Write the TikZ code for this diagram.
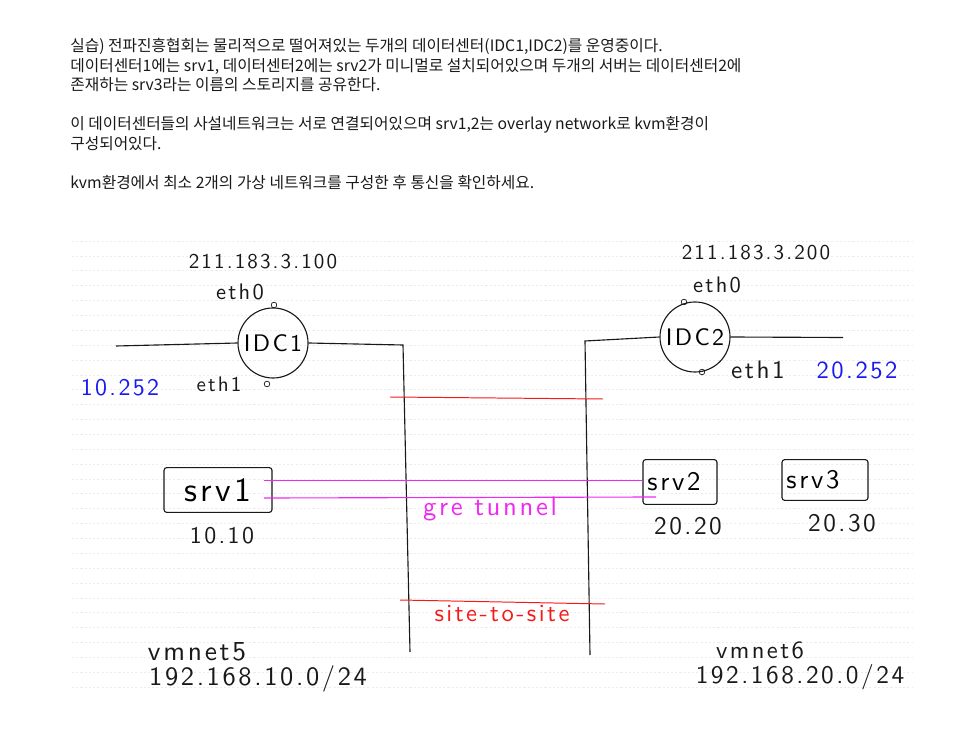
\documentclass[tikz,border=0pt]{standalone}
\usepackage{fontspec}
\setmainfont{Noto Sans CJK KR}
\newfontfamily\handfont{lmsans10-regular}[Extension=.otf, LetterSpace=10]
\usetikzlibrary{positioning}
\definecolor{pen}{RGB}{25,25,25}
\definecolor{ruled}{RGB}{236,236,236}
\definecolor{penred}{RGB}{245,25,25}
\definecolor{penpink}{RGB}{240,40,240}
\definecolor{penblue}{RGB}{25,25,240}
\newcommand{\handsz}[1]{\handfont\fontsize{#1}{#1}\selectfont}
\tikzstyle{wire}=[draw=pen, line width=0.8pt]
\tikzstyle{hand}=[inner sep=0pt, text=pen, font=\handsz{13}]
\tikzstyle{idc}=[draw=pen, line width=0.8pt, circle, inner sep=0pt, minimum size=1.75cm, font=\handsz{17}]
\tikzstyle{srv}=[draw=pen, line width=0.8pt, rounded corners=2pt, inner sep=0pt, font=\handsz{19}]
\tikzstyle{port}=[draw=pen, line width=0.5pt, circle, inner sep=0pt, minimum size=4pt]
\tikzstyle{para}=[anchor=west, inner sep=0pt, text=pen, font=\fontsize{11.2}{11.2}\selectfont]

\begin{document}
\begin{tikzpicture}[x=0.025cm, y=-0.025cm]
        \useasboundingbox (0,0) rectangle (971,734);
        \foreach \i in {0,...,30}
            \draw[ruled, line width=0.4pt, dash pattern=on 1.5pt off 1.5pt] ({72},{241+\i*14.867}) -- ({913},{241+\i*14.867});
        \node[para] (t1) at (70,46) {실습) 전파진흥협회는 물리적으로 떨어져있는 두개의 데이터센터(IDC1,IDC2)를 운영중이다.};
        \node[para] (t2) at (70,66) {데이터센터1에는 srv1, 데이터센터2에는 srv2가 미니멀로 설치되어있으며 두개의 서버는 데이터센터2에};
        \node[para] (t3) at (70,85) {존재하는 srv3라는 이름의 스토리지를 공유한다.};
        \node[para] (t4) at (70,125) {이 데이터센터들의 사설네트워크는 서로 연결되어있으며 srv1,2는 overlay network로 kvm환경이};
        \node[para] (t5) at (70,144) {구성되어있다.};
        \node[para] (t6) at (70,183) {kvm환경에서 최소 2개의 가상 네트워크를 구성한 후 통신을 확인하세요.};

        \node[idc] (IDC1) at (273,343) {IDC1};
        \node[idc] (IDC2) at (695,337) {IDC2};
        \node[port] (p01) at (274,305) {};
        \node[port] (p11) at (267,384) {};
        \node[port] (p02) at (684,302) {};
        \node[port] (p12) at (702,372) {};
        \node[hand, font=\handsz{15}] (ip1) at (263,262) {211.183.3.100};
        \node[hand, font=\handsz{16}] (e01) at (240,292) {eth0};
        \node[hand, font=\handsz{15}] (e11) at (219,384) {eth1};
        \node[hand, text=penblue, font=\handsz{17}] (n1) at (120,388) {10.252};
        \node[hand, font=\handsz{15}] (ip2) at (756,253) {211.183.3.200};
        \node[hand, font=\handsz{16}] (e02) at (717,285) {eth0};
        \node[hand, font=\handsz{18}] (e12) at (758,370) {eth1};
        \node[hand, text=penblue, font=\handsz{17.5}] (n2) at (857,370) {20.252};

        \coordinate (L1) at (116,346);
        \coordinate (C1) at (403,345);
        \coordinate (B1) at (410,652);
        \coordinate (R2) at (843,337.5);
        \coordinate (C2) at (585,341);
        \coordinate (B2) at (590,655);
        \draw[wire] (L1) -- (IDC1.west);
        \draw[wire] (IDC1.east) -- (C1) -- (B1);
        \draw[wire] (IDC2.east) -- (R2);
        \draw[wire] (IDC2.west) -- (C2) -- (B2);

        \node[srv, minimum width=2.7cm, minimum height=1.12cm, font=\handsz{24}] (srv1) at (218,490) {srv1};
        \node[srv, minimum width=1.85cm, minimum height=1.12cm] (srv2) at (680,482) {\hspace{-0.3cm}srv2};
        \node[srv, minimum width=2.15cm, minimum height=1.02cm] (srv3) at (825,480) {\hspace{-0.6cm}srv3};
        \node[hand, font=\handsz{17}] (a1) at (222,536) {10.10};
        \node[hand, font=\handsz{18}] (a2) at (688,526) {20.20};
        \node[hand, font=\handsz{18}] (a3) at (842,523) {20.30};

        \coordinate (T1a) at (390,397);
        \coordinate (T1b) at (603,399);
        \coordinate (T2a) at (400,600);
        \coordinate (T2b) at (605,604);
        \draw[penred, line width=0.7pt] (T1a) -- (T1b);
        \draw[penred, line width=0.7pt] (T2a) -- (T2b);
        \node[hand, text=penred, font=\handsz{17.5}] (s2s) at (502,614) {site-to-site};

        \coordinate (G1a) at (264,480.5);
        \coordinate (G2a) at (264,498);
        \coordinate (G2b) at (656,497);
        \draw[penpink, line width=0.8pt] (G1a) -- (srv2.west |- G1a);
        \draw[penpink, line width=0.8pt] (G2a) -- (G2b);
        \node[hand, text=penpink, font=\handsz{19}] (gre) at (490,509) {gre tunnel};

        \node[hand, font=\handsz{19.5}] (v5) at (197,652) {vmnet5};
        \node[hand, font=\handsz{18.8}] (net5) at (258,679) {192.168.10.0/24};
        \node[hand, font=\handsz{17.5}] (v6) at (760,650) {vmnet6};
        \node[hand, font=\handsz{18}] (net6) at (800,677) {192.168.20.0/24};
    \end{tikzpicture}
\end{document}
